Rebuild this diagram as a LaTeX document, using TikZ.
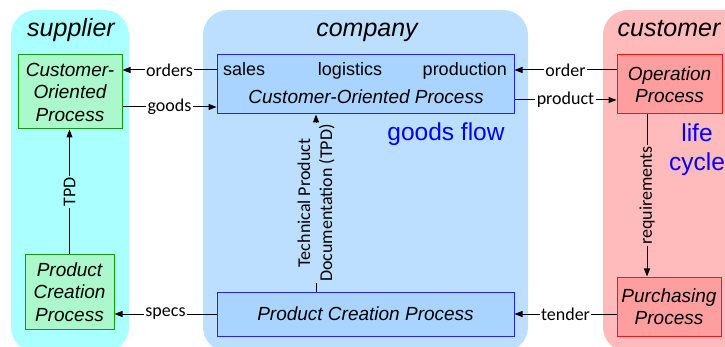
\documentclass[tikz,border=0pt]{standalone}
\usepackage{fontspec}
\setmainfont{Liberation Sans}
\newfontfamily\labfont{Carlito}
\usetikzlibrary{arrows.meta}
\definecolor{lanesup}{HTML}{AAFFFF}
\definecolor{lanecom}{HTML}{BDDFFF}
\definecolor{lanecus}{HTML}{FFBBBB}
\definecolor{boxsup}{HTML}{AAF8CC}
\definecolor{edgesup}{HTML}{119911}
\definecolor{boxcom}{HTML}{A8D4FF}
\definecolor{edgecom}{HTML}{2222FF}
\definecolor{boxcus}{HTML}{FF9E9E}
\definecolor{edgecus}{HTML}{FF1111}
\definecolor{flowblue}{HTML}{0000FF}
\begin{document}
\begin{tikzpicture}[x=1pt,y=-1pt,
  lane/.style={rounded corners=25pt, draw=none},
  lanetitle/.style={font=\fontsize{25}{29}\selectfont\itshape, anchor=base, inner sep=0pt},
  proc/.style={draw, line width=1pt, inner sep=0pt, align=center, font=\fontsize{19}{22.5}\selectfont\itshape},
  supbox/.style={proc, fill=boxsup, draw=edgesup},
  combox/.style={proc, fill=boxcom, draw=edgecom},
  cusbox/.style={proc, fill=boxcus, draw=edgecus, font=\fontsize{19}{21.5}\selectfont\itshape},
  flow/.style={line width=1pt, -{Triangle[length=8pt,width=6pt]}},
  lab/.style={font=\labfont\fontsize{18}{22}\selectfont, inner sep=1.5pt},
  intext/.style={font=\fontsize{18}{22}\selectfont, inner sep=0pt},
  big/.style={font=\fontsize{24.5}{29}\selectfont, text=flowblue, align=center, inner sep=0pt}
]
\useasboundingbox (0,0) rectangle (725,347);
\clip (0,0) rectangle (725,347);
% lanes
\fill[lane, lanesup] (11,10) rectangle (129,352);
\fill[lane, lanecom] (203,10) rectangle (528,352);
\fill[lane, lanecus] (603,10) rectangle (760,352);
\node[lanetitle] (tsup) at (71,37) {supplier};
\node[lanetitle] (tcom) at (367,37) {company};
\node[lanetitle] (tcus) at (669,37) {customer};
% boxes
\node[supbox, minimum width=104pt, minimum height=74pt] (scop) at (70,92) {Customer-\\Oriented\\Process};
\node[supbox, minimum width=89pt, minimum height=74pt] (spcp) at (69.5,292) {Product\\Creation\\Process};
\node[combox, minimum width=297pt, minimum height=59pt] (ccop) at (365.5,84.5) {};
\node[combox, minimum width=297pt, minimum height=44pt] (cpcp) at (365.5,314) {Product Creation Process};
\node[cusbox, minimum width=105pt, minimum height=59pt] (opp) at (669.5,84.5) {Operation\\Process};
\node[cusbox, minimum width=104pt, minimum height=59pt] (purp) at (669,306.5) {Purchasing\\Process};
% texts inside company box
\node[intext, anchor=base west] (tsales) at (223,76) {sales};
\node[intext, anchor=base] (tlog) at (350,76) {logistics};
\node[intext, anchor=base east] (tprod) at (507,76) {production};
\node[intext, anchor=base, font=\fontsize{19}{22}\selectfont\itshape] (tccop) at (366,104) {Customer-Oriented Process};
% blue texts
\node[big] (gflow) at (446,134) {goods flow};
\node[big] (lcyc) at (697,150) {life\\cycle};
% connectors
\coordinate (o1) at ([yshift=14.5pt]ccop.west);
\coordinate (g1) at ([yshift=-15pt]scop.east);
\coordinate (r1) at ([yshift=14.5pt]opp.west);
\coordinate (p1) at ([yshift=-15.5pt]ccop.east);
\coordinate (t1) at ([xshift=-49.5pt]cpcp.north);
\coordinate (q1) at ([xshift=-22.5pt]opp.south);
\draw[flow] (o1) -- node[lab, fill=white] {orders} (o1 -| scop.east);
\draw[flow] (g1) -- node[lab, fill=white] {goods} (g1 -| ccop.west);
\draw[flow] (r1) -- node[lab, fill=white] {order} (r1 -| ccop.east);
\draw[flow] (p1) -- node[lab, fill=white] {product} (p1 -| opp.west);
\draw[flow] (spcp.north) -- node[lab, fill=lanesup, rotate=90] {TPD} (spcp.north |- scop.south);
\draw[flow] (t1) -- node[lab, fill=lanecom, rotate=90, align=center] {Technical Product\\Documentation (TPD)} (t1 |- ccop.south);
\draw[flow] (q1) -- node[lab, fill=lanecus, rotate=90] {requirements} (q1 |- purp.north);
\draw[flow] (cpcp.west) -- node[lab, fill=white] {specs} (cpcp.west -| spcp.east);
\draw[flow] (purp.west |- cpcp.east) -- node[lab, fill=white] {tender} (cpcp.east);
\end{tikzpicture}
\end{document}
